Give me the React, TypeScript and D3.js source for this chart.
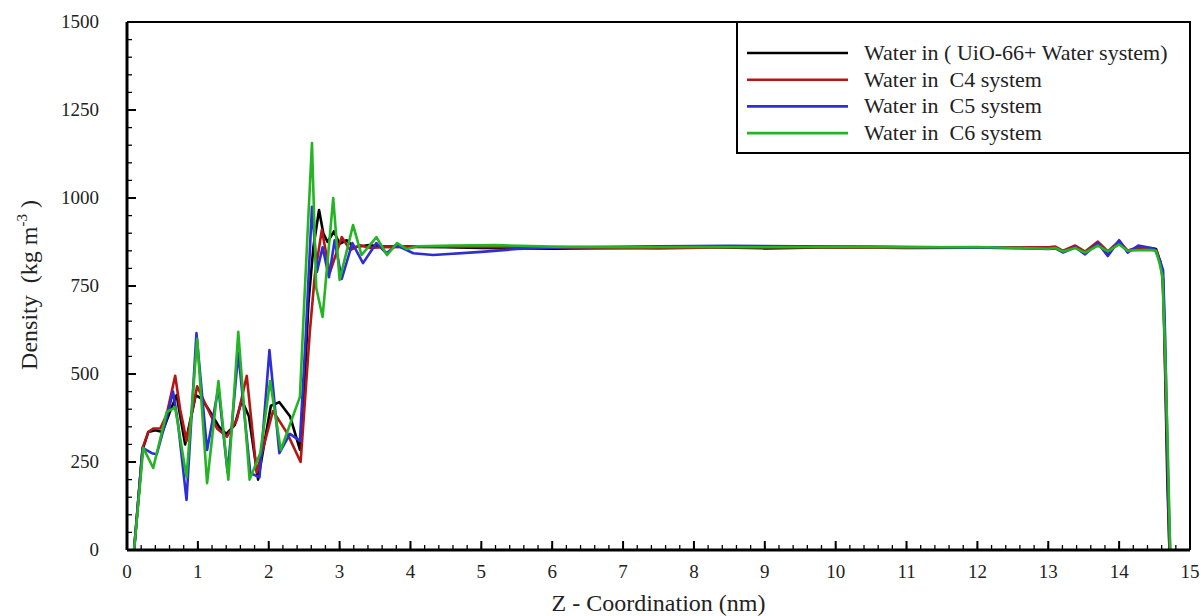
import React from 'react';
import * as d3 from 'd3';

// density profiles, [z (nm), density (kg m-3)]
const uioWater: [number, number][] = [
  [0.1, 0], [0.22, 285], [0.3, 335], [0.4, 340], [0.5, 335], [0.6, 390], [0.7, 440], [0.82, 300],
  [0.97, 440], [1.05, 430], [1.15, 400], [1.3, 350], [1.4, 330], [1.52, 355], [1.62, 425], [1.72, 380],
  [1.85, 200], [2.03, 410], [2.15, 420], [2.3, 380], [2.44, 285], [2.5, 450], [2.56, 700], [2.63, 860],
  [2.71, 966], [2.77, 900], [2.83, 875], [2.92, 905], [3.0, 870], [3.1, 880], [3.2, 860], [3.4, 866],
  [3.6, 862], [4.0, 862], [4.5, 860], [5.0, 858], [5.5, 857], [6.0, 856], [7.0, 858], [8.0, 861],
  [9.0, 857], [10.0, 860], [11.0, 858], [12.0, 859], [13.0, 858], [13.1, 860], [13.21, 848], [13.38, 862],
  [13.52, 846], [13.7, 868], [13.84, 845], [14.0, 872], [14.12, 850], [14.27, 858], [14.45, 858], [14.52, 855],
  [14.58, 820], [14.62, 770], [14.65, 500], [14.68, 200], [14.71, 0],
];

const c4Water: [number, number][] = [
  [0.1, 0], [0.22, 290], [0.3, 335], [0.37, 345], [0.47, 345], [0.56, 385], [0.68, 495], [0.75, 400],
  [0.84, 310], [0.99, 465], [1.13, 405], [1.27, 345], [1.41, 322], [1.55, 370], [1.69, 495], [1.83, 220],
  [2.06, 395], [2.26, 332], [2.45, 250], [2.52, 450], [2.58, 620], [2.65, 780], [2.75, 910], [2.86, 787],
  [3.03, 889], [3.15, 852], [3.29, 866], [3.43, 858], [3.6, 860], [4.5, 862], [5.5, 860], [6.5, 858],
  [7.5, 857], [8.5, 860], [9.5, 860], [10.5, 859], [11.5, 860], [12.5, 860], [13.0, 860], [13.1, 862],
  [13.21, 850], [13.38, 865], [13.52, 848], [13.7, 876], [13.84, 848], [14.0, 878], [14.12, 850], [14.27, 860],
  [14.45, 855], [14.53, 850], [14.6, 800], [14.63, 700], [14.67, 350], [14.71, 0],
];

const c5Water: [number, number][] = [
  [0.1, 0], [0.22, 290], [0.35, 275], [0.42, 272], [0.56, 375], [0.65, 450], [0.72, 360], [0.84, 142],
  [0.98, 616], [1.13, 284], [1.29, 460], [1.42, 220], [1.57, 560], [1.74, 218], [1.87, 207], [2.01, 568],
  [2.15, 275], [2.3, 330], [2.44, 310], [2.52, 600], [2.61, 975], [2.68, 790], [2.76, 860], [2.85, 775],
  [2.93, 880], [3.03, 770], [3.18, 872], [3.33, 815], [3.52, 872], [3.66, 843], [3.8, 866], [4.04, 843],
  [4.32, 838], [5.0, 847], [5.5, 855], [6.2, 860], [7.5, 863], [8.5, 864], [9.5, 863], [10.5, 862],
  [11.5, 860], [12.5, 858], [13.0, 855], [13.1, 857], [13.21, 845], [13.38, 860], [13.52, 840], [13.7, 872],
  [13.84, 835], [14.0, 880], [14.12, 845], [14.27, 865], [14.4, 860], [14.5, 855], [14.58, 820], [14.62, 795],
  [14.65, 600], [14.69, 200], [14.72, 0],
];

const c6Water: [number, number][] = [
  [0.1, 0], [0.23, 290], [0.37, 233], [0.56, 392], [0.68, 405], [0.84, 207], [0.99, 600], [1.13, 190],
  [1.29, 480], [1.43, 200], [1.57, 620], [1.73, 200], [1.88, 275], [2.02, 480], [2.17, 284], [2.44, 435],
  [2.5, 700], [2.61, 1156], [2.67, 745], [2.76, 662], [2.91, 1000], [3.0, 767], [3.19, 923], [3.31, 838],
  [3.52, 889], [3.67, 838], [3.81, 872], [3.95, 855], [4.1, 863], [4.6, 865], [5.2, 866], [6.0, 862],
  [7.0, 860], [8.0, 861], [9.0, 860], [10.0, 861], [11.0, 860], [12.0, 861], [13.0, 856], [13.1, 858],
  [13.21, 848], [13.38, 858], [13.52, 845], [13.7, 865], [13.84, 848], [14.0, 868], [14.12, 850], [14.27, 852],
  [14.45, 852], [14.52, 850], [14.57, 815], [14.61, 778], [14.65, 560], [14.69, 260], [14.72, 0],
];

const seriesNames = [
  'Water in ( UiO-66+ Water system)',
  'Water in  C4 system',
  'Water in  C5 system',
  'Water in  C6 system',
];
const seriesColors = ['#000000', '#b41616', '#2e2ed8', '#24b424'];
const seriesData = [uioWater, c4Water, c5Water, c6Water];

const xTicks = [0, 1, 2, 3, 4, 5, 6, 7, 8, 9, 10, 11, 12, 13, 14, 15];
const yTicks = [0, 250, 500, 750, 1000, 1250, 1500];

const width = 1203;
const height = 616;
const font = "'Times New Roman', 'Liberation Serif', 'DejaVu Serif', serif";

const App = () => {
  const x = d3.scaleLinear().domain([0, 15]).range([127, 1190]);
  const y = d3.scaleLinear().domain([0, 1500]).range([550, 22]);
  const line = d3.line<[number, number]>().x(d => x(d[0])).y(d => y(d[1]));

  const xMinor = d3.range(0, 15.001, 0.2);
  const yMinor = d3.range(0, 1500.1, 50);

  const [x0, x1] = x.range();
  const [y0, y1] = y.range();

  return (
    <svg width={width} height={height} style={{ position: 'absolute', left: 0, top: 0, background: '#fff', fontFamily: font }}>
      {/* frame */}
      <line x1={x0} x2={x1} y1={y1} y2={y1} stroke="#000" strokeWidth={2} />
      <line x1={x1} x2={x1} y1={y1} y2={y0} stroke="#000" strokeWidth={2} />

      {/* series */}
      {seriesData.map((s, i) => (
        <path key={i} d={line(s) || ''} fill="none" stroke={seriesColors[i]} strokeWidth={2.6} strokeLinejoin="round" />
      ))}

      {/* x axis */}
      {xMinor.map((t, i) => (
        <line key={'xm' + i} x1={x(t)} x2={x(t)} y1={y0} y2={y0 - 5} stroke="#000" strokeWidth={1.3} />
      ))}
      {xTicks.map(t => (
        <g key={'xt' + t}>
          <line x1={x(t)} x2={x(t)} y1={y0} y2={y0 - 9} stroke="#000" strokeWidth={2} />
          <text x={x(t)} y={578} textAnchor="middle" fontSize={19} fill="#222">{t}</text>
        </g>
      ))}
      {/* y axis */}
      {yMinor.map((t, i) => (
        <line key={'ym' + i} x1={x0} x2={x0 + 5} y1={y(t)} y2={y(t)} stroke="#000" strokeWidth={1.3} />
      ))}
      {yTicks.map(t => (
        <g key={'yt' + t}>
          <line x1={x0} x2={x0 + 9} y1={y(t)} y2={y(t)} stroke="#000" strokeWidth={2} />
          <text x={99} y={y(t) + 6} textAnchor="end" fontSize={19} fill="#222">{t}</text>
        </g>
      ))}
      <line x1={x0} x2={x1} y1={y0} y2={y0} stroke="#000" strokeWidth={3} />
      <line x1={x0} x2={x0} y1={y1} y2={y0} stroke="#000" strokeWidth={3} />

      {/* axis titles */}
      <text x={(x0 + x1) / 2} y={611} textAnchor="middle" fontSize={24} fill="#222">
        Z - Coordination (nm)
      </text>
      <text transform="translate(37,285) rotate(-90)" textAnchor="middle" fontSize={24} fill="#222" style={{ whiteSpace: 'pre' }}>
        Density  (kg m<tspan dy={-10} fontSize={15}>-3</tspan><tspan dy={10}> )</tspan>
      </text>

      {/* legend */}
      <rect x={737} y={y1} width={x1 - 737} height={131} fill="#fff" stroke="#000" strokeWidth={2} />
      {seriesNames.map((name, i) => {
        const ly = 53 + i * 26.7;
        return (
          <g key={name}>
            <line x1={747} x2={848} y1={ly} y2={ly} stroke={seriesColors[i]} strokeWidth={2.6} />
            <text x={864} y={ly + 7} fontSize={22} fill="#222" style={{ whiteSpace: 'pre' }}>{name}</text>
          </g>
        );
      })}
    </svg>
  );
};

export default App;
